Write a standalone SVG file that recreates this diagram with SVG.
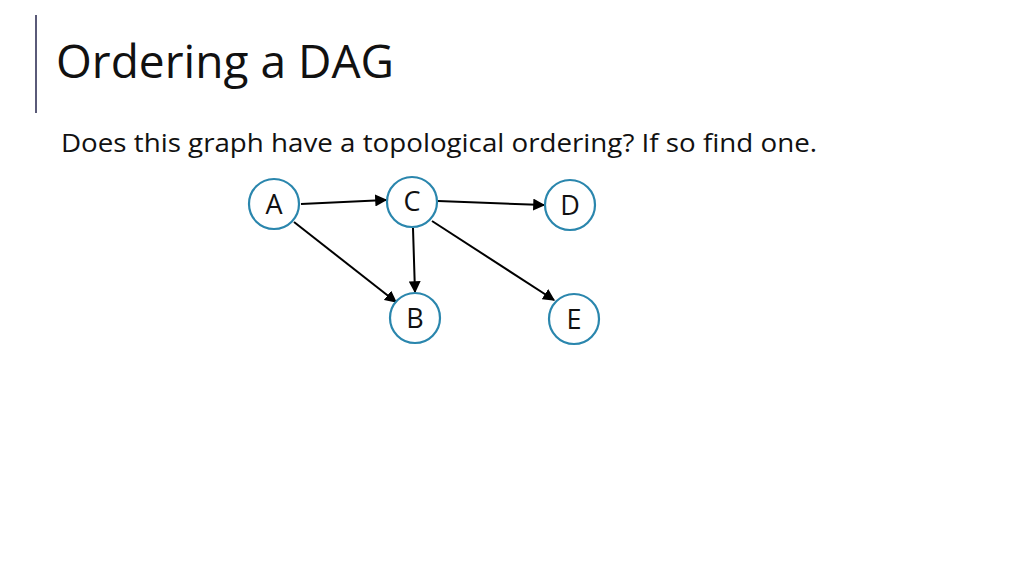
<svg xmlns="http://www.w3.org/2000/svg" width="1024" height="576" viewBox="0 0 1024 576">
<style>
text{font-family:"Open Sans","Noto Sans",sans-serif;fill:#111}
.n circle{fill:#fff;stroke:#2a86ad;stroke-width:2.2}
.n text{font-size:27px;text-anchor:middle}
.e line{stroke:#000;stroke-width:2;marker-end:url(#ah)}
</style>
<defs><marker id="ah" viewBox="0 0 10 10" refX="9" refY="5" markerWidth="6" markerHeight="6" orient="auto" markerUnits="strokeWidth"><path d="M0,0L10,5L0,10z" fill="#000"/></marker></defs>
<rect width="1024" height="576" fill="#fff"/>
<line x1="36" y1="15" x2="36" y2="113" stroke="#5a5a78" stroke-width="2"/>
<text x="56" y="78" font-size="45" textLength="338" lengthAdjust="spacingAndGlyphs">Ordering a DAG</text>
<text x="61" y="152" font-size="26" textLength="756" lengthAdjust="spacingAndGlyphs">Does this graph have a topological ordering? If so find one.</text>
<g class="e" id="connectors">
<line x1="301" y1="204" x2="386" y2="200"/>
<line x1="438" y1="201" x2="544" y2="205"/>
<line x1="413" y1="228" x2="415" y2="292"/>
<line x1="294" y1="222" x2="396" y2="302"/>
<line x1="432" y1="221" x2="554" y2="300"/>
</g>
<g class="n" id="A"><circle cx="274" cy="204" r="25"/><text x="274" y="214">A</text></g>
<g class="n" id="C"><circle cx="412" cy="202" r="25"/><text x="412" y="211">C</text></g>
<g class="n" id="D"><circle cx="570" cy="205" r="25"/><text x="570" y="215">D</text></g>
<g class="n" id="B"><circle cx="415" cy="318" r="25"/><text x="415" y="328">B</text></g>
<g class="n" id="E"><circle cx="574" cy="319" r="25"/><text x="574" y="329">E</text></g>
</svg>
